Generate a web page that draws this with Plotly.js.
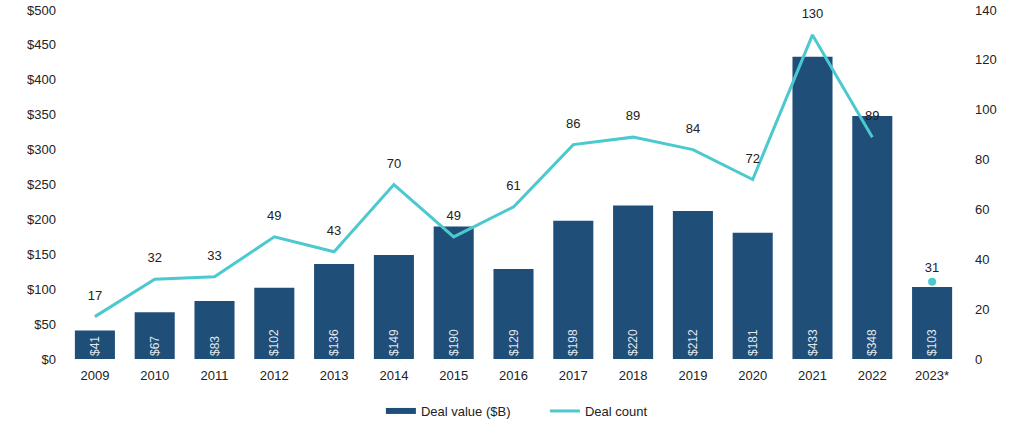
<!DOCTYPE html>
<html><head><meta charset="utf-8">
<script src="https://cdn.plot.ly/plotly-3.0.1.min.js"></script>
<style>body{margin:0;background:#fff}#c{width:1024px;height:432px}</style>
</head><body><div id="c"></div>
<script>
const years = ["2009","2010","2011","2012","2013","2014","2015","2016","2017","2018","2019","2020","2021","2022","2023*"];
const dealValue = [41,67,83,102,136,149,190,129,198,220,212,181,433,348,103];
const dealCount = [17,32,33,49,43,70,49,61,86,89,84,72,130,89,null];
const partialYear = ["2023*"];
const partialCount = [31];

const barColor = "#1f4e79";
const lineColor = "#4cc9cf";
const font = "Liberation Sans, Arial, sans-serif";

const traces = [
  {
    type: "bar", name: "Deal value ($B)", x: years, y: dealValue,
    marker: {color: barColor}, showlegend: false,
    text: dealValue.map(v => "$" + v), textposition: "inside",
    insidetextanchor: "start", textangle: -90,
    textfont: {color: "rgba(255,255,255,0.88)", size: 12, family: font},
    hoverinfo: "x+y"
  },
  {
    type: "scatter", mode: "lines", name: "Deal value ($B)", x: [null], y: [null],
    line: {color: barColor, width: 6}, showlegend: true, hoverinfo: "skip"
  },
  {
    type: "scatter", mode: "lines+markers+text", name: "Deal count", x: years, y: dealCount,
    yaxis: "y2", line: {color: lineColor, width: 3},
    marker: {size: 20, color: "rgba(0,0,0,0)"},
    text: dealCount.map(v => v == null ? "" : String(v)), textposition: "top center",
    textfont: {color: "#222", size: 13, family: font},
    connectgaps: false, cliponaxis: false
  },
  {
    type: "scatter", mode: "markers+text", name: "Deal count (partial)", x: partialYear, y: partialCount,
    yaxis: "y2", marker: {color: lineColor, size: 8}, showlegend: false,
    text: partialCount.map(String), textposition: "top center",
    textfont: {color: "#222", size: 13, family: font}, cliponaxis: false
  }
];

const layout = {
  width: 1024, height: 432,
  margin: {l: 65, r: 62, t: 10, b: 73, autoexpand: false},
  paper_bgcolor: "#fff", plot_bgcolor: "#fff",
  font: {family: font, size: 13, color: "#222"},
  bargap: 0.33,
  xaxis: {type: "category", range: [-0.5, 14.5], automargin: false, showgrid: false, zeroline: false, showline: false, ticks: "", tickfont: {size: 13}, ticklabelstandoff: 7},
  yaxis: {range: [0, 500], dtick: 50, tickprefix: "$", automargin: false, showgrid: false, zeroline: false, showline: false, tickfont: {size: 13}, ticklabelstandoff: 8},
  yaxis2: {range: [0, 140], dtick: 20, overlaying: "y", side: "right", automargin: false, showgrid: false, zeroline: false, showline: false, tickfont: {size: 13}, ticklabelstandoff: 12},
  legend: {orientation: "h", x: 0.535, xanchor: "center", y: -0.149, yanchor: "middle", font: {size: 13}, entrywidth: 119, traceorder: "normal"},
  showlegend: true
};

Plotly.newPlot("c", traces, layout, {displayModeBar: false, staticPlot: true});
</script>
</body></html>
